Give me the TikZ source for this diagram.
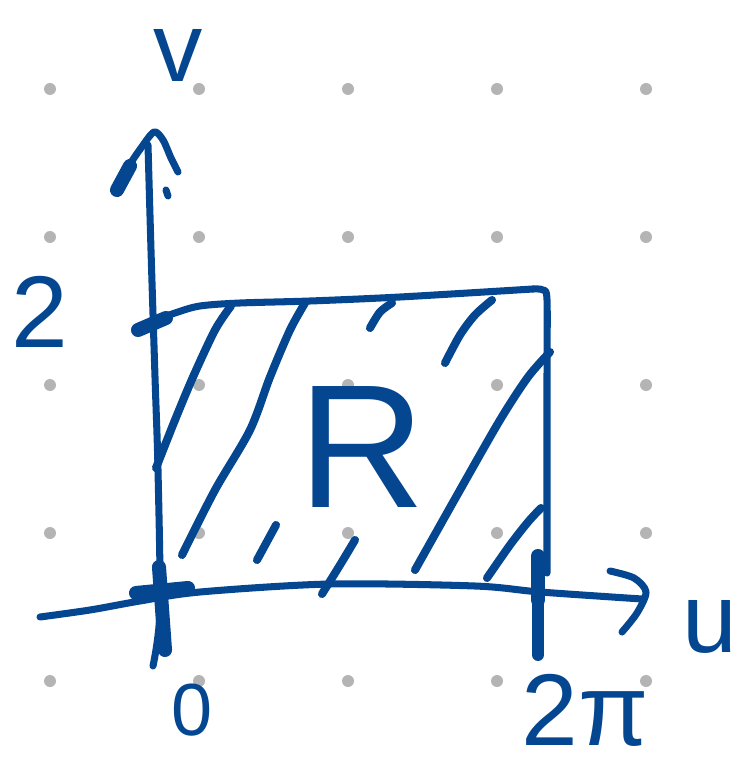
\documentclass[tikz,border=0pt]{standalone}
\usepackage{fontspec}
\setmainfont{Liberation Sans}
\definecolor{ink}{RGB}{4,70,143}
\definecolor{dotgray}{RGB}{180,180,180}
\begin{document}
\begin{tikzpicture}[x=0.01cm, y=-0.01cm, line cap=round, line join=round,
    axisline/.style={draw=ink, line width=2pt},
    hatchline/.style={draw=ink, line width=2.3pt},
    blob/.style={draw=ink, line width=4pt},
    lbl/.style={text=ink, inner sep=0pt}]
    \useasboundingbox (0,0) rectangle (751,764);
    % Dot grid
    \foreach \x in {50,199,348,497,646}
        \foreach \y in {89,237,385,533,681}
            \fill[dotgray] (\x,\y) circle (6);
    % Vertical axis
    \draw[axisline] plot[smooth] coordinates {(153,666) (160,610) (158,470) (155,377) (151,250) (148,145)};
    \draw[axisline] plot[smooth] coordinates {(117,190) (129,166) (141,148) (154,132) (163,140) (171,158) (178,172)};
    \draw[blob] (117,190) -- (130,166);
    \draw[axisline] (166,190) -- (168,196);
    % Horizontal axis
    \draw[axisline] plot[smooth] coordinates {(40,617) (90,610) (140,601) (200,592) (330,584) (475,586) (540,592) (642,599)};
    \draw[axisline] plot[smooth] coordinates {(610,571) (634,578) (646,592) (637,613) (622,632)};
    % Ticks
    \draw[blob] (159,567) -- (165,650);
    \draw[blob] (136,593) -- (188,588);
    \draw[blob] (138,330) -- (166,318);
    \draw[blob] (538,556) -- (538,600);
    \draw[axisline, line width=3.4pt] (538,600) -- (538,655);
    % Region R
    \draw[axisline] plot[smooth] coordinates {(140,326) (175,313) (200,306) (240,303) (310,301) (400,297) (533,289)};
    \draw[axisline] plot[smooth] coordinates {(533,289) (543,290) (547,300) (547,380) (547,573)};
    % Hatching
    \draw[hatchline] plot[smooth] coordinates {(156,468) (175,420) (193,377) (215,330) (231,306)};
    \draw[hatchline] plot[smooth] coordinates {(182,555) (215,490) (250,430) (270,377) (290,330) (305,303)};
    \draw[hatchline] (257,560) -- (276,525);
    \draw[hatchline] plot[smooth] coordinates {(322,594) (340,565) (355,540)};
    \draw[hatchline] plot[smooth] coordinates {(370,328) (380,312) (392,303)};
    \draw[hatchline] plot[smooth] coordinates {(445,363) (460,335) (475,315) (492,300)};
    \draw[hatchline] plot[smooth] coordinates {(415,570) (460,490) (500,420) (528,377) (550,352)};
    \draw[hatchline] plot[smooth] coordinates {(487,578) (510,545) (528,522) (541,508)};
    % Labels
    \node[lbl, font=\fontsize{28}{28}\selectfont] (v) at (178,55) {v};
    \node[lbl, font=\fontsize{29}{29}\selectfont] (two) at (40,312) {2};
    \node[lbl, font=\fontsize{21}{21}\selectfont] (zero) at (192,710) {0};
    \node[lbl, font=\fontsize{28}{28}\selectfont] (u) at (710,627) {u};
    \node[lbl, font=\fontsize{29}{29}\selectfont] (twopi) at (585,710) {2π};
    \node[lbl, font=\fontsize{50}{50}\selectfont] (R) at (362,447) {R};
\end{tikzpicture}
\end{document}
